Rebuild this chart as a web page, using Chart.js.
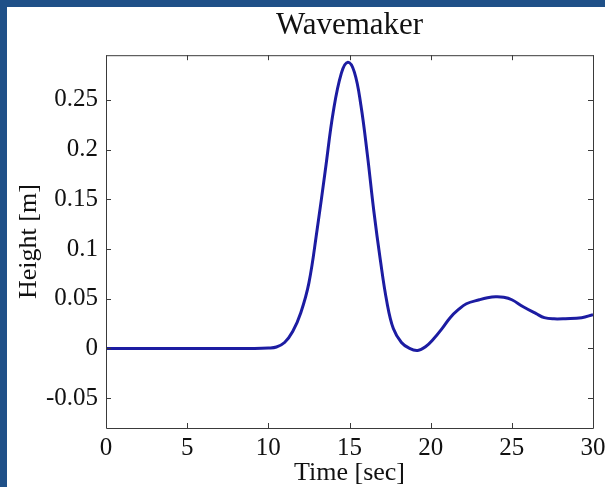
<!DOCTYPE html>
<html>
<head>
<meta charset="utf-8">
<script src="https://cdn.jsdelivr.net/npm/chart.js@4/dist/chart.umd.min.js"></script>
<style>
  html, body { margin: 0; padding: 0; background: #ffffff; }
  #frame {
    width: 605px;
    height: 487px;
    box-sizing: border-box;
    border-left: 7px solid #1f5088;
    border-top: 7px solid #1f5088;
    background: #ffffff;
    overflow: hidden;
  }
  #wrap { width: 598px; height: 480px; position: relative; }
</style>
</head>
<body>
<div id="frame"><div id="wrap"><canvas id="graph"></canvas></div></div>
<script>
// surface elevation at the wavemaker
const timeSec = [0, 1, 2, 3, 4, 5, 6, 7, 8, 9, 10, 10.5, 11, 11.5, 12, 12.5, 13, 13.5, 14, 14.5,
  14.9, 15.3, 15.7, 16.1, 16.5, 16.9, 17.3, 17.7, 18.2, 18.7, 19.2, 19.7, 20.2, 20.7, 21.2,
  21.7, 22.2, 23, 23.5, 24, 24.5, 25, 25.7, 26.5, 27, 27.6, 28.3, 29.3, 30];
const heightM = [0, 0, 0, 0, 0, 0, 0, 0, 0, 0, 0.0005, 0.0015, 0.006, 0.017, 0.036, 0.066, 0.119, 0.178, 0.238, 0.277,
  0.288, 0.278, 0.245, 0.195, 0.138, 0.089, 0.047, 0.020, 0.006, 0.000, -0.002, 0.002, 0.010, 0.020, 0.031,
  0.039, 0.045, 0.049, 0.051, 0.052, 0.0515, 0.049, 0.042, 0.035, 0.031, 0.0298, 0.030, 0.031, 0.034];

const xTicks = [0, 5, 10, 15, 20, 25, 30];
const yTicks = [-0.05, 0, 0.05, 0.1, 0.15, 0.2, 0.25];
const yTickLabels = ["-0.05", "0", "0.05", "0.1", "0.15", "0.2", "0.25"];

const serif = "'Liberation Serif', 'Times New Roman', serif";
const axisColor = "#3a3a3a";

// matlab style box: full frame with ticks pointing inward on all four sides
const boxTicks = {
  id: "boxTicks",
  afterDatasetsDraw(chart) {
    const { ctx, chartArea: a, scales } = chart;
    const len = 5;
    ctx.save();
    ctx.strokeStyle = axisColor;
    ctx.lineWidth = 1;
    ctx.beginPath();
    ctx.rect(a.left + 0.5, a.top + 0.5, a.right - a.left, a.bottom - a.top);
    xTicks.forEach(function (v) {
      const px = Math.round(scales.x.getPixelForValue(v)) + 0.5;
      ctx.moveTo(px, a.bottom);
      ctx.lineTo(px, a.bottom - len);
      ctx.moveTo(px, a.top);
      ctx.lineTo(px, a.top + len);
    });
    yTicks.forEach(function (v) {
      const py = Math.round(scales.y.getPixelForValue(v)) + 0.5;
      ctx.moveTo(a.left, py);
      ctx.lineTo(a.left + len, py);
      ctx.moveTo(a.right, py);
      ctx.lineTo(a.right - len, py);
    });
    ctx.stroke();
    ctx.restore();
  },
};

const points = timeSec.map((t, i) => ({ x: t, y: heightM[i] }));

new Chart(document.getElementById("graph"), {
  type: "line",
  data: {
    datasets: [
      {
        data: points,
        borderColor: "#1c1ca2",
        borderWidth: 3,
        pointRadius: 0,
        fill: false,
        tension: 0.4,
      },
    ],
  },
  options: {
    responsive: true,
    maintainAspectRatio: false,
    animation: false,
    layout: { padding: { left: 0, right: 12, top: 0, bottom: 0 } },
    plugins: {
      legend: { display: false },
      tooltip: { enabled: false },
      title: {
        display: true,
        fullSize: false,
        text: "Wavemaker",
        color: "#111111",
        font: { family: serif, size: 31, weight: "normal" },
        padding: { top: 0, bottom: 11 },
      },
    },
    scales: {
      x: {
        type: "linear",
        min: 0,
        max: 30,
        afterBuildTicks: (scale) => { scale.ticks = xTicks.map((v) => ({ value: v })); },
        afterFit: (scale) => {
          scale.height = 59;
          scale.paddingLeft = 0;
          scale.paddingRight = 0;
        },
        grid: { display: false, drawTicks: false },
        border: { display: false },
        ticks: {
          color: "#111111",
          padding: 5,
          maxRotation: 0,
          font: { family: serif, size: 25 },
        },
        title: {
          display: true,
          text: "Time [sec]",
          color: "#111111",
          font: { family: serif, size: 26 },
          padding: { top: 0, bottom: -2 },
        },
      },
      y: {
        type: "linear",
        min: -0.08,
        max: 0.295,
        afterBuildTicks: (scale) => { scale.ticks = yTicks.map((v) => ({ value: v })); },
        afterFit: (scale) => { scale.width = 99; },
        grid: { display: false, drawTicks: false },
        border: { display: false },
        ticks: {
          color: "#111111",
          padding: 8,
          font: { family: serif, size: 25 },
          callback: (value) => {
            const i = yTicks.findIndex((v) => Math.abs(v - value) < 1e-9);
            return i >= 0 ? yTickLabels[i] : "";
          },
        },
        title: {
          display: true,
          text: "Height [m]",
          color: "#111111",
          font: { family: serif, size: 26 },
          padding: { top: 7, bottom: 0 },
        },
      },
    },
  },
  plugins: [boxTicks],
});
</script>
</body>
</html>
